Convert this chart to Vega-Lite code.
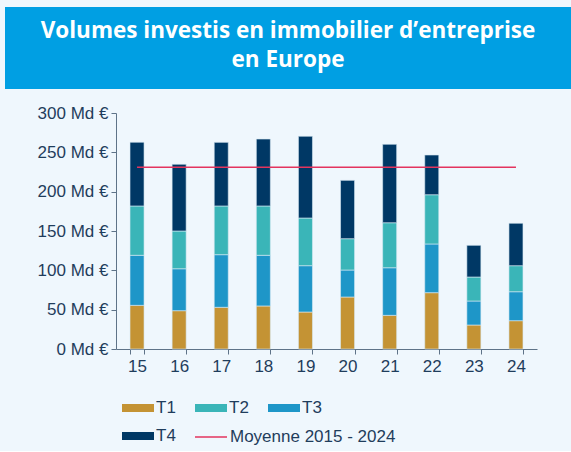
{
  "$schema": "https://vega.github.io/schema/vega-lite/v6.json",
  "background": "#eff7fd",
  "padding": {"left": 5, "top": 7, "right": 0, "bottom": 6},
  "spacing": 15,
  "config": {
    "view": {"stroke": null},
    "font": "Liberation Sans"
  },
  "datasets": {
    "titre": [{"texte": "Volumes investis en immobilier d’entreprise\nen Europe"}],
    "volumes": [
      {"annee": "15", "serie": "T1", "valeur": 55.5}, {"annee": "15", "serie": "T3", "valeur": 63.6}, {"annee": "15", "serie": "T2", "valeur": 62.7}, {"annee": "15", "serie": "T4", "valeur": 81.0},
      {"annee": "16", "serie": "T1", "valeur": 48.7}, {"annee": "16", "serie": "T3", "valeur": 53.3}, {"annee": "16", "serie": "T2", "valeur": 48.0}, {"annee": "16", "serie": "T4", "valeur": 84.8},
      {"annee": "17", "serie": "T1", "valeur": 53.0}, {"annee": "17", "serie": "T3", "valeur": 66.9}, {"annee": "17", "serie": "T2", "valeur": 61.9}, {"annee": "17", "serie": "T4", "valeur": 80.9},
      {"annee": "18", "serie": "T1", "valeur": 54.7}, {"annee": "18", "serie": "T3", "valeur": 64.4}, {"annee": "18", "serie": "T2", "valeur": 62.7}, {"annee": "18", "serie": "T4", "valeur": 85.1},
      {"annee": "19", "serie": "T1", "valeur": 47.0}, {"annee": "19", "serie": "T3", "valeur": 58.9}, {"annee": "19", "serie": "T2", "valeur": 60.6}, {"annee": "19", "serie": "T4", "valeur": 103.9},
      {"annee": "20", "serie": "T1", "valeur": 66.1}, {"annee": "20", "serie": "T3", "valeur": 34.3}, {"annee": "20", "serie": "T2", "valeur": 39.8}, {"annee": "20", "serie": "T4", "valeur": 74.2},
      {"annee": "21", "serie": "T1", "valeur": 42.8}, {"annee": "21", "serie": "T3", "valeur": 60.5}, {"annee": "21", "serie": "T2", "valeur": 57.2}, {"annee": "21", "serie": "T4", "valeur": 99.7},
      {"annee": "22", "serie": "T1", "valeur": 71.6}, {"annee": "22", "serie": "T3", "valeur": 61.9}, {"annee": "22", "serie": "T2", "valeur": 62.6}, {"annee": "22", "serie": "T4", "valeur": 50.5},
      {"annee": "23", "serie": "T1", "valeur": 30.5}, {"annee": "23", "serie": "T3", "valeur": 30.5}, {"annee": "23", "serie": "T2", "valeur": 30.5}, {"annee": "23", "serie": "T4", "valeur": 40.3},
      {"annee": "24", "serie": "T1", "valeur": 36.0}, {"annee": "24", "serie": "T3", "valeur": 36.8}, {"annee": "24", "serie": "T2", "valeur": 33.1}, {"annee": "24", "serie": "T4", "valeur": 53.9}
    ],
    "moyenne": [
      {"annee": "15", "serie": "Moyenne 2015 - 2024", "valeur": 231},
      {"annee": "16", "serie": "Moyenne 2015 - 2024", "valeur": 231},
      {"annee": "17", "serie": "Moyenne 2015 - 2024", "valeur": 231},
      {"annee": "18", "serie": "Moyenne 2015 - 2024", "valeur": 231},
      {"annee": "19", "serie": "Moyenne 2015 - 2024", "valeur": 231},
      {"annee": "20", "serie": "Moyenne 2015 - 2024", "valeur": 231},
      {"annee": "21", "serie": "Moyenne 2015 - 2024", "valeur": 231},
      {"annee": "22", "serie": "Moyenne 2015 - 2024", "valeur": 231},
      {"annee": "23", "serie": "Moyenne 2015 - 2024", "valeur": 231},
      {"annee": "24", "serie": "Moyenne 2015 - 2024", "valeur": 231}
    ]
  },
  "vconcat": [
    {
      "width": 566,
      "height": 82,
      "view": {"fill": "#009fe3", "stroke": null},
      "data": {"name": "titre"},
      "mark": {"type": "text", "font": "Open Sans", "fontWeight": "bold", "fontSize": 22.5, "color": "#ffffff", "align": "center", "baseline": "middle", "lineBreak": "\n", "lineHeight": 28.5, "dy": -17},
      "encoding": {"text": {"field": "texte"}}
    },
    {
      "width": 566,
      "height": 236,
      "layer": [
        {
          "data": {"name": "volumes"},
          "transform": [{"calculate": "indexof(['T1','T3','T2','T4'], datum.serie)", "as": "rang"}],
          "mark": {"type": "bar", "stroke": "#d8e9f3", "strokeWidth": 0.6},
          "encoding": {
            "x": {"field": "annee", "type": "ordinal"},
            "y": {"field": "valeur", "type": "quantitative", "stack": "zero"},
            "fill": {
              "field": "serie", "type": "nominal",
              "scale": {"domain": ["T1", "T2", "T3", "T4"], "range": ["#c49334", "#3ab5b8", "#1e96c8", "#003865"]},
              "legend": {
                "title": null, "orient": "none", "direction": "horizontal", "legendX": 123, "legendY": 391,
                "columns": 3, "columnPadding": 19, "rowPadding": 10, "padding": 0,
                "symbolType": "M-1.6,-0.4L1.6,-0.4L1.6,0.4L-1.6,0.4Z", "symbolStrokeWidth": 0, "symbolOpacity": 1,
                "symbolSize": 400, "labelFontSize": 17, "labelColor": "#1f3d5c", "labelOffset": 8, "labelLimit": 300
              }
            },
            "order": {"field": "rang", "type": "quantitative"}
          }
        },
        {
          "data": {"name": "moyenne"},
          "mark": {"type": "line", "strokeWidth": 1.5},
          "encoding": {
            "x": {"field": "annee", "type": "ordinal"},
            "y": {"field": "valeur", "type": "quantitative"},
            "stroke": {
              "field": "serie", "type": "nominal",
              "scale": {"domain": ["Moyenne 2015 - 2024"], "range": ["#e3345e"]},
              "legend": {
                "title": null, "orient": "none", "direction": "horizontal", "legendX": 195, "legendY": 419, "padding": 0,
                "symbolType": "M-1.6,0L1.6,0", "symbolStrokeWidth": 1.5, "symbolOpacity": 1,
                "symbolSize": 400, "labelFontSize": 17, "labelColor": "#1f3d5c", "labelOffset": 8, "labelLimit": 300
              }
            }
          }
        }
      ],
      "encoding": {
        "x": {
          "field": "annee", "type": "ordinal",
          "scale": {"range": [111, 532], "paddingInner": 0.667, "paddingOuter": 0.333},
          "axis": {"title": null, "labelAngle": 0, "labelFontSize": 17, "labelColor": "#1f3d5c", "domainColor": "#5e7388", "tickColor": "#5e7388", "tickSize": 5, "tickBand": "extent", "labelPadding": 4, "grid": false}
        },
        "y": {
          "field": "valeur", "type": "quantitative",
          "scale": {"domain": [0, 300], "nice": false},
          "axis": {"title": null, "values": [0, 50, 100, 150, 200, 250, 300], "labelExpr": "datum.value + ' Md €'", "labelFontSize": 17, "labelColor": "#1f3d5c", "domainColor": "#5e7388", "tickColor": "#5e7388", "tickSize": 5, "labelPadding": 3, "grid": false, "offset": -111}
        }
      }
    }
  ]
}
